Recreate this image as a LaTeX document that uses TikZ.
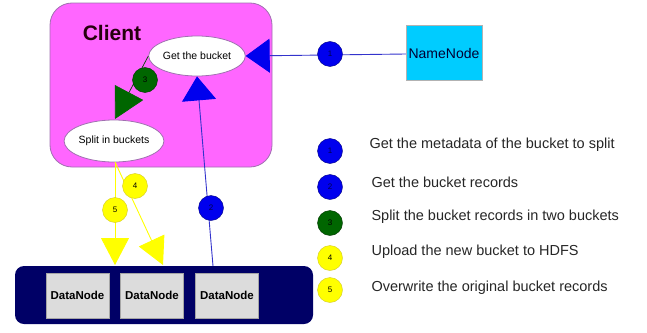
\documentclass[tikz,border=0pt]{standalone}
\usepackage{fontspec}
\setmainfont{Liberation Sans}
\usetikzlibrary{arrows.meta,shapes.geometric}
\definecolor{clientfill}{HTML}{FF66FF}
\definecolor{clientdraw}{HTML}{A070B0}
\definecolor{nnfill}{HTML}{00CCFF}
\definecolor{barnavy}{HTML}{000066}
\definecolor{dngray}{HTML}{DCDCDC}
\definecolor{bluec}{HTML}{0000EE}
\definecolor{bluel}{HTML}{3333CC}
\definecolor{greenc}{HTML}{006600}
\definecolor{yell}{HTML}{FFFF00}
\tikzset{
  ell/.style={ellipse,draw=clientdraw,fill=white,line width=0.8pt,inner sep=0pt,font=\fontsize{10.5}{12}\selectfont},
  dnbox/.style={rectangle,draw=gray!70,fill=dngray,minimum width=63pt,minimum height=45pt,inner sep=0pt,font=\bfseries\fontsize{11.5}{13}\selectfont},
  numc/.style={circle,minimum size=25pt,inner sep=0pt,font=\fontsize{8}{9}\selectfont},
  bluenum/.style={numc,fill=bluec,draw=blue!50!black,text=blue!30!black},
  greennum/.style={numc,fill=greenc,draw=green!20!black,text=black},
  yellnum/.style={numc,fill=yell,draw=yellow!80!black,text=black},
  legtext/.style={anchor=west,font=\fontsize{14.5}{16}\selectfont,text=black!85},
  bluearr/.style={draw=bluel,line width=0.9pt,-{Triangle[length=24pt,width=34pt,fill=bluec,color=bluec]}},
  greenarr/.style={draw=greenc!70!black,line width=0.7pt,-{Triangle[length=30pt,width=32pt,fill=greenc,color=greenc]}},
  yellarr/.style={draw=yell,line width=0.9pt,-{Triangle[length=27pt,width=28pt,fill=yell,color=yell]}},
}
\begin{document}
\begin{tikzpicture}[x=1pt,y=-1pt]
\useasboundingbox (0,0) rectangle (647,332);
% Client box
\node[draw=clientdraw,fill=clientfill,rounded corners=22pt,minimum width=222pt,minimum height=164pt,inner sep=0pt,line width=0.8pt] (client) at (161,85) {};
\node[font=\bfseries\fontsize{21}{24}\selectfont,text=black!80!purple] (clientlbl) at (112,33) {Client};
\node[ell,minimum width=78pt,minimum height=40pt] (gb) at (197,56) {Get the bucket};
\node[ell,minimum width=84pt,minimum height=42pt] (sb) at (114,141) {Split in buckets};
% NameNode
\node[rectangle,draw=gray!60,fill=nnfill,minimum width=76pt,minimum height=55pt,inner sep=0pt,font=\fontsize{14}{16}\selectfont,text=black!80!blue] (nn) at (444,53) {NameNode};
% DataNode bar
\node[rectangle,fill=barnavy,rounded corners=9pt,minimum width=298pt,minimum height=58pt,inner sep=0pt] (bar) at (164,295) {};
\node[dnbox] (dn1) at (77.5,295.5) {DataNode};
\node[dnbox] (dn2) at (152,295.5) {DataNode};
\node[dnbox] (dn3) at (227,295.5) {DataNode};
% connector end points
\coordinate (c2s) at (213,266);
\coordinate (y5e) at (115,265);
\coordinate (y4e) at (163,265);
\coordinate (ys) at (115,162);
\coordinate (g3e) at (115,119);
% arrows
\draw[bluearr] (nn.west |- 0,54) -- (gb.east);
\draw[bluearr] (c2s) -- (gb.south);
\draw[greenarr] (gb.west) -- (g3e);
\draw[yellarr] (ys) -- (y5e);
\draw[yellarr] (ys) -- (y4e);
% number circles on connectors
\node[bluenum] (n1) at (330,54) {1};
\node[bluenum] (n2) at (211,208) {2};
\node[greennum] (n3) at (145,80) {3};
\node[yellnum] (n4) at (135,186) {4};
\node[yellnum] (n5) at (115,210) {5};
% legend
\node[bluenum] (l1) at (330,151) {1};
\node[bluenum] (l2) at (330,187) {2};
\node[greennum] (l3) at (330,223) {3};
\node[yellnum] (l4) at (330,258) {4};
\node[yellnum] (l5) at (330,290) {5};
\node[legtext] (t1) at (366,145) {Get the metadata of the bucket to split};
\node[legtext] (t2) at (368,182) {Get the bucket records};
\node[legtext] (t3) at (368,217) {Split the bucket records in two buckets};
\node[legtext] (t4) at (368,252) {Upload the new bucket to HDFS};
\node[legtext] (t5) at (368,288) {Overwrite the original bucket records};
\end{tikzpicture}
\end{document}
